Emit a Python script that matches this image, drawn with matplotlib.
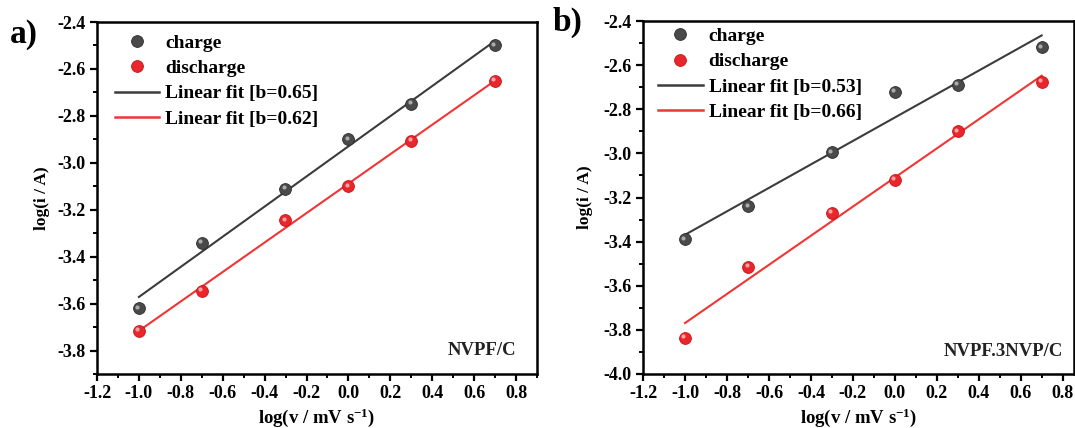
import numpy as np
import matplotlib
matplotlib.use("Agg")
import matplotlib.pyplot as plt
import matplotlib.transforms as mtransforms
from matplotlib.lines import Line2D
from matplotlib.ticker import MultipleLocator

plt.rcParams['font.family'] = ['Liberation Serif', 'DejaVu Serif']
plt.rcParams['font.weight'] = 'bold'
plt.rcParams['axes.unicode_minus'] = False
plt.rcParams['mathtext.fontset'] = 'custom'
plt.rcParams['mathtext.rm'] = 'Liberation Serif:bold'
plt.rcParams['mathtext.bf'] = 'Liberation Serif:bold'
plt.rcParams['mathtext.it'] = 'Liberation Serif:bold'

# ---- data ----
log_v = [-1.0, -0.699, -0.301, 0.0, 0.301, 0.699]

a_charge = [-3.62, -3.34, -3.11, -2.90, -2.75, -2.50]
a_discharge = [-3.715, -3.545, -3.245, -3.10, -2.905, -2.65]
a_fit_labels = ['Linear fit [b=0.65]', 'Linear fit [b=0.62]']
a_name = 'NVPF/C'

b_charge = [-3.39, -3.24, -2.995, -2.72, -2.69, -2.52]
b_discharge = [-3.835, -3.515, -3.27, -3.12, -2.90, -2.675]
b_fit_labels = ['Linear fit [b=0.53]', 'Linear fit [b=0.66]']
b_name = 'NVPF.3NVP/C'

x_ticks = [-1.2, -1.0, -0.8, -0.6, -0.4, -0.2, 0.0, 0.2, 0.4, 0.6, 0.8]

GRAY = '#4a4a4a'
GRAY_EDGE = '#2b2b2b'
GRAY_HI = '#b5b5b5'
RED = '#e8262c'
RED_EDGE = '#c41414'
RED_HI = '#ffb3b3'
LINE_GRAY = '#3c3c3c'
LINE_RED = '#f03535'

fig = plt.figure(figsize=(10.75, 4.28), dpi=100)
W, H = 1075, 428


def sphere(ax, x, y, color, edge, hi, ms=8.5):
    ax.plot(x, y, 'o', ms=ms, mfc=color, mec=edge, mew=0.6, ls='none', zorder=4)
    off = mtransforms.offset_copy(ax.transData, fig=fig, x=-1.2, y=1.2, units='points')
    ax.plot(x, y, 'o', ms=ms * 0.35, mfc=hi, mec='none', ls='none', alpha=0.9,
            transform=off, zorder=5)


def panel(rect, xlim, ylim, yticks, charge, discharge, fit_labels, name, ann_y,
          ylab_x, legend_anchor, letter, letter_xy):
    ax = fig.add_axes(rect)
    x = np.array(log_v)
    for ys, col, edge, hi, lc in [(charge, GRAY, GRAY_EDGE, GRAY_HI, LINE_GRAY),
                                  (discharge, RED, RED_EDGE, RED_HI, LINE_RED)]:
        ys = np.array(ys)
        k, c = np.polyfit(x, ys, 1)
        xf = np.array([x.min(), x.max()])
        ax.plot(xf, k * xf + c, '-', color=lc, lw=1.5, zorder=3)
        sphere(ax, x, ys, col, edge, hi)

    ax.set_xlim(*xlim)
    ax.set_ylim(*ylim)
    ax.set_xticks(x_ticks)
    ax.set_xticklabels([f'{t:.1f}' for t in x_ticks])
    ax.set_yticks(yticks)
    ax.set_yticklabels([f'{t:.1f}' for t in yticks])
    ax.xaxis.set_minor_locator(MultipleLocator(0.1))
    ax.yaxis.set_minor_locator(MultipleLocator(0.1))
    ax.tick_params(which='major', direction='out', length=5, width=1.6,
                   labelsize=13, pad=3, top=False, right=False)
    ax.tick_params(which='minor', direction='out', length=3, width=1.4,
                   top=False, right=False)
    for sp in ax.spines.values():
        sp.set_linewidth(1.8)

    ax.set_xlabel(r'log(v / mV s$^{\mathbf{-1}}$)', fontsize=13.5, fontweight='bold')
    ax.set_ylabel('log(i / A)', fontsize=12.5, fontweight='bold')
    ax.xaxis.set_label_coords(0.5, -0.092)
    ax.yaxis.set_label_coords(ylab_x, 0.5)

    handles = [
        Line2D([], [], marker='o', ls='none', ms=8.5, mfc=GRAY, mec=GRAY_EDGE, mew=0.6),
        Line2D([], [], marker='o', ls='none', ms=8.5, mfc=RED, mec=RED_EDGE, mew=0.6),
        Line2D([], [], color=LINE_GRAY, lw=1.8),
        Line2D([], [], color=LINE_RED, lw=1.8),
    ]
    labels = ['charge', 'discharge'] + fit_labels
    ax.legend(handles, labels, loc='upper left', bbox_to_anchor=legend_anchor,
              frameon=False, handlelength=2.3, handletextpad=0.3,
              labelspacing=0.4, borderaxespad=0.0, borderpad=0.0,
              prop={'weight': 'bold', 'size': 14})
    ax.text(0.8, ann_y, name, ha='right', va='center', fontsize=13.5,
            fontweight='bold', color='#222222')
    fig.text(letter_xy[0], letter_xy[1], letter, fontsize=24, fontweight='bold',
             ha='left', va='center')
    return ax


# panel a
ra = [97 / W, (H - 374) / H, 440 / W, 352 / H]
axa = panel(ra, (-1.2, 0.9), (-3.9, -2.4),
            [-3.8, -3.6, -3.4, -3.2, -3.0, -2.8, -2.6, -2.4],
            a_charge, a_discharge, a_fit_labels, a_name, -3.8,
            -0.106, (0.04, 0.966), 'a)', (10 / W, 1 - 35 / H))

# panel b
rb = [643 / W, (H - 374) / H, 431 / W, 353 / H]
axb = panel(rb, (-1.2, 0.853), (-4.0, -2.4),
            [-4.0, -3.8, -3.6, -3.4, -3.2, -3.0, -2.8, -2.6, -2.4],
            b_charge, b_discharge, b_fit_labels, b_name, -3.9,
            -0.116, (0.035, 0.982), 'b)', (553 / W, 1 - 22 / H))

fig.savefig('out.png', dpi=100)
